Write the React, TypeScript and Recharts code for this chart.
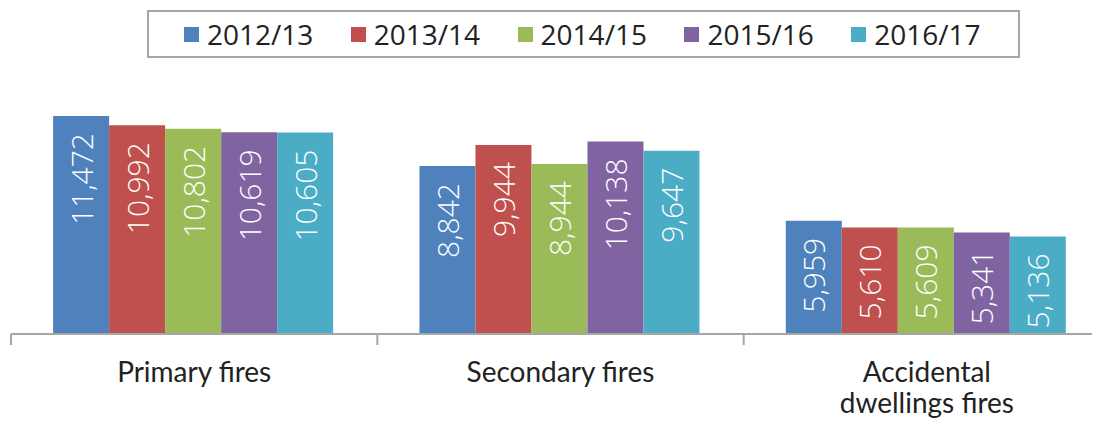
import React from "react";
import { BarChart, Bar, XAxis, YAxis, LabelList } from "recharts";

const categories = ["Primary fires", "Secondary fires", "Accidental\ndwellings fires"];
const years = ["2012/13", "2013/14", "2014/15", "2015/16", "2016/17"];
const colors = ["#4f81bd", "#c0504d", "#9bbb59", "#8064a2", "#4bacc6"];
const v2012 = [11472, 8842, 5959];
const v2013 = [10992, 9944, 5610];
const v2014 = [10802, 8944, 5609];
const v2015 = [10619, 10138, 5341];
const v2016 = [10605, 9647, 5136];

const series = [v2012, v2013, v2014, v2015, v2016];
const data = categories.map((name, i) => {
  const row: Record<string, string | number> = { name };
  years.forEach((y, s) => (row[y] = series[s][i]));
  return row;
});

const W = 1110;
const H = 425;
const margin = { top: 68, right: 0, bottom: 0, left: 11 };
const band = (W - margin.left - margin.right) / categories.length;

function CategoryTick(props: any) {
  const { x, y, payload, index } = props;
  const lines = String(payload.value).split("\n");
  const left = x - band / 2;
  return (
    <g>
      <line x1={left} y1={y} x2={left} y2={y + 11} stroke="#a6a6a6" strokeWidth={2} />
      {index === categories.length - 1 && (
        <line x1={left + band} y1={y} x2={left + band} y2={y + 11} stroke="#a6a6a6" strokeWidth={2} />
      )}
      <text x={x} y={y} textAnchor="middle" fill="#222" fontFamily="Lato" fontSize={28}>
        {lines.map((l, i) => (
          <tspan key={i} x={x} dy={i === 0 ? 48 : 31}>
            {l}
          </tspan>
        ))}
      </text>
    </g>
  );
}

function ValueLabel(props: any) {
  const { x, y, width, value } = props;
  const cx = x + width / 2;
  const ty = y + 17;
  return (
    <text
      x={cx}
      y={ty}
      transform={`rotate(-90 ${cx} ${ty})`}
      textAnchor="end"
      dominantBaseline="central"
      fill="#fff"
      fontFamily="Open Sans"
      fontWeight={300}
      fontSize={30}
    >
      {Number(value).toLocaleString("en-US")}
    </text>
  );
}

export default function App() {
  return (
    <div style={{ position: "relative", margin: "-8px 0 0 -8px", width: W, height: H, overflow: "hidden" }}>
      <div
        style={{
          position: "absolute",
          left: 147,
          top: 10,
          width: 873,
          height: 48,
          boxSizing: "border-box",
          border: "2px solid #a6a6a6",
          display: "flex",
          alignItems: "center",
          paddingLeft: 35,
          fontFamily: "Open Sans",
          fontSize: 28,
          color: "#222",
        }}
      >
        {years.map((y, i) => (
          <div key={y} style={{ width: 169, display: "flex", alignItems: "center" }}>
            <span style={{ width: 15, height: 15, background: colors[i], marginRight: 8 }} />
            <span>{y}</span>
          </div>
        ))}
      </div>
      <BarChart width={W} height={H} data={data} margin={margin} barCategoryGap="11.5%" barGap={0}>
        <XAxis
          dataKey="name"
          height={91}
          interval={0}
          tickLine={false}
          tickSize={0}
          tickMargin={0}
          axisLine={{ stroke: "#a6a6a6", strokeWidth: 2 }}
          tick={<CategoryTick />}
        />
        <YAxis hide domain={[0, 14000]} />
        {years.map((y, i) => (
          <Bar key={y} dataKey={y} fill={colors[i]} isAnimationActive={false}>
            <LabelList dataKey={y} content={<ValueLabel />} />
          </Bar>
        ))}
      </BarChart>
    </div>
  );
}
